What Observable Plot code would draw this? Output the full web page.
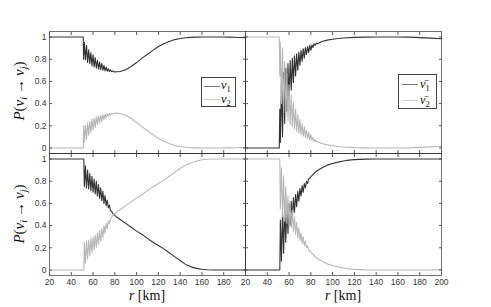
<!DOCTYPE html>
<html><head><meta charset="utf-8">
<script src="https://cdn.jsdelivr.net/npm/d3@7"></script>
<script src="https://cdn.jsdelivr.net/npm/@observablehq/plot@0.6"></script>
<style>
body{margin:0;background:#fff}
#chart{position:relative;width:491px;height:307px;overflow:hidden;background:#fff}
.panel{position:absolute}
.panel svg{background:transparent;overflow:visible}
.txt{position:absolute;font-family:"Liberation Serif","DejaVu Serif",serif;color:#111;white-space:nowrap}
.xl{font-size:14px;transform:translateX(-50%)}
.yl{font-size:15px;transform:translate(-50%,-50%) rotate(-90deg)}
.yl sub,.lab sub{font-size:0.68em;vertical-align:-0.3em;line-height:0}
.legend{position:absolute;border:1px solid #444;background:#fff;box-sizing:border-box}
.sw{position:absolute;height:1px}
.lab{position:absolute;font-family:"Liberation Serif","DejaVu Serif",serif;font-size:12.5px;line-height:12px;height:12px;color:#111}
</style></head><body><div id="chart"></div>
<script>
// ---- tick labels ----
const xTicks = [20, 40, 60, 80, 100, 120, 140, 160, 180, 200];
const yTicks = [0, 0.2, 0.4, 0.6, 0.8, 1];

// ---- top-left: neutrinos (nu1 dark, nu2 light) ----
const rA = [20, 51, 51.3,
  52, 53, 54, 55, 56, 57, 58, 59, 60, 61, 62, 63, 64, 65, 66, 67, 68, 69, 70, 71, 72, 73, 74, 75, 76, 77, 78, 79, 80,
  85, 90, 95, 100, 105, 110, 115, 120, 125, 130, 135, 140, 145, 150, 155, 160, 165, 170, 175, 180, 185, 190, 195, 200];
const nu1A = [1, 1, 0.80,
  0.95, 0.795, 0.925, 0.77, 0.885, 0.76, 0.86, 0.74, 0.84, 0.73, 0.815, 0.72, 0.79, 0.71, 0.775, 0.705, 0.76, 0.70, 0.745, 0.695, 0.73, 0.692, 0.715, 0.69, 0.705, 0.688, 0.695, 0.687, 0.686,
  0.69, 0.705, 0.735, 0.77, 0.81, 0.845, 0.88, 0.915, 0.94, 0.96, 0.977, 0.987, 0.993, 0.997, 0.999, 1, 1, 1, 1, 1, 0.999, 0.998, 0.996, 0.995];
const nu2A = [0, 0, 0.20,
  0.05, 0.205, 0.075, 0.23, 0.115, 0.24, 0.14, 0.26, 0.16, 0.27, 0.185, 0.28, 0.21, 0.29, 0.225, 0.295, 0.24, 0.30, 0.255, 0.305, 0.27, 0.308, 0.285, 0.31, 0.295, 0.312, 0.305, 0.313, 0.314,
  0.31, 0.295, 0.265, 0.23, 0.19, 0.155, 0.12, 0.085, 0.06, 0.04, 0.023, 0.013, 0.007, 0.003, 0.001, 0, 0, 0, 0, 0, 0.001, 0.002, 0.004, 0.005];

// ---- top-right: antineutrinos ----
const rB = [20, 51, 51.5,
  52, 53, 54, 55, 56, 57, 58, 59, 60, 61, 62, 63, 64, 65, 66, 67, 68, 69, 70, 71, 72, 73, 74, 75, 76, 77, 78, 79, 80, 81, 82, 83, 84, 85, 86,
  90, 95, 100, 105, 110, 120, 130, 140, 150, 160, 170, 180, 190, 200];
const anu1B = [0, 0, 0.35,
  0.05, 0.60, 0.10, 0.68, 0.22, 0.72, 0.33, 0.76, 0.43, 0.79, 0.52, 0.81, 0.59, 0.83, 0.65, 0.85, 0.70, 0.865, 0.745, 0.88, 0.78, 0.895, 0.81, 0.905, 0.84, 0.915, 0.86, 0.925, 0.88, 0.93, 0.905, 0.94, 0.925, 0.945, 0.94,
  0.96, 0.972, 0.98, 0.987, 0.992, 0.997, 0.999, 1, 1, 1, 0.999, 0.995, 0.99, 0.985];
const anu2B = [1, 1, 0.65,
  0.95, 0.40, 0.90, 0.32, 0.78, 0.28, 0.67, 0.24, 0.57, 0.21, 0.48, 0.19, 0.41, 0.17, 0.35, 0.15, 0.30, 0.135, 0.255, 0.12, 0.22, 0.105, 0.19, 0.095, 0.16, 0.085, 0.14, 0.075, 0.12, 0.07, 0.095, 0.06, 0.075, 0.055, 0.06,
  0.04, 0.028, 0.02, 0.013, 0.008, 0.003, 0.001, 0, 0, 0, 0.001, 0.005, 0.01, 0.015];

// ---- bottom-left: neutrinos ----
const rC = [20, 51.5,
  52, 53, 54, 55, 56, 57, 58, 59, 60, 61, 62, 63, 64, 65, 66, 67, 68, 69, 70, 71, 72, 73, 74, 75, 76, 77, 78,
  80, 85, 90, 95, 100, 105, 110, 115, 120, 125, 130, 135, 140, 145, 150, 155, 160, 165, 170, 175, 180, 185, 190, 195, 200];
const nu1C = [1, 1,
  0.75, 0.94, 0.74, 0.90, 0.73, 0.87, 0.715, 0.845, 0.70, 0.82, 0.685, 0.80, 0.665, 0.77, 0.645, 0.74, 0.625, 0.71, 0.60, 0.67, 0.58, 0.63, 0.56, 0.585, 0.535, 0.53, 0.51,
  0.49, 0.455, 0.42, 0.385, 0.35, 0.32, 0.285, 0.25, 0.22, 0.19, 0.155, 0.12, 0.085, 0.05, 0.028, 0.014, 0.006, 0.002, 0, 0, 0, 0, 0, 0, 0];
const nu2C = [0, 0,
  0.25, 0.06, 0.26, 0.10, 0.27, 0.13, 0.285, 0.155, 0.30, 0.18, 0.315, 0.20, 0.335, 0.23, 0.355, 0.26, 0.375, 0.29, 0.40, 0.33, 0.42, 0.37, 0.44, 0.415, 0.465, 0.47, 0.49,
  0.51, 0.545, 0.58, 0.615, 0.65, 0.68, 0.715, 0.75, 0.78, 0.81, 0.845, 0.88, 0.915, 0.945, 0.965, 0.982, 0.993, 0.998, 1, 1, 1, 1, 1, 1, 1];

// ---- bottom-right: antineutrinos ----
const rD = [20, 51.5,
  52, 53, 54, 55, 56, 57, 58, 59, 60, 61, 62, 63, 64, 65, 66, 67, 68, 69, 70, 71, 72, 73, 74, 75, 76, 77, 78,
  80, 85, 90, 95, 100, 105, 110, 115, 120, 130, 140, 150, 160, 170, 180, 190, 200];
const anu1D = [0, 0,
  0.45, 0.08, 0.52, 0.15, 0.56, 0.25, 0.58, 0.33, 0.60, 0.40, 0.62, 0.46, 0.65, 0.52, 0.68, 0.57, 0.71, 0.62, 0.735, 0.665, 0.76, 0.70, 0.78, 0.74, 0.80, 0.78, 0.82,
  0.84, 0.89, 0.92, 0.945, 0.96, 0.972, 0.982, 0.99, 0.995, 0.999, 1, 1, 1, 1, 1, 1, 1];
const anu2D = [1, 1,
  0.55, 0.92, 0.48, 0.85, 0.44, 0.75, 0.42, 0.67, 0.40, 0.60, 0.38, 0.54, 0.35, 0.48, 0.32, 0.43, 0.29, 0.38, 0.265, 0.335, 0.24, 0.30, 0.22, 0.26, 0.20, 0.22, 0.18,
  0.16, 0.11, 0.08, 0.055, 0.04, 0.028, 0.018, 0.01, 0.005, 0.001, 0, 0, 0, 0, 0, 0, 0.003];

const darkColor = "#333333", lightColor = "#b8b8b8";

function rows(r, p) { return r.map((v, i) => ({r: v, p: p[i]})); }

function panel({r, dark, light, left, top, width, height, mL, mR, mT, mB, yLabels, xLabels, skipLast}) {
  const fig = Plot.plot({
    width, height,
    marginLeft: mL, marginRight: mR, marginTop: mT, marginBottom: mB,
    style: {background: "transparent", fontFamily: "'Liberation Sans', Arial, sans-serif", fontSize: "8.5px", color: "#333", overflow: "visible"},
    x: {domain: [20, 200], label: null},
    y: {domain: [-0.05, 1.05], label: null},
    marks: [
      Plot.line(rows(r, dark), {x: "r", y: "p", stroke: darkColor, strokeWidth: 1.1}),
      Plot.line(rows(r, light), {x: "r", y: "p", stroke: lightColor, strokeWidth: 1.1}),
      Plot.frame({stroke: "#000", strokeOpacity: 0.55}),
      Plot.axisY({ticks: yTicks, anchor: "left", tickSize: -3, tickPadding: 6, label: null, stroke: "#555",
        tickFormat: yLabels ? (d => String(d)) : (() => "")}),
      Plot.axisY({ticks: yTicks, anchor: "right", tickSize: -3, label: null, stroke: "#555", tickFormat: () => ""}),
      Plot.axisX({ticks: xTicks, anchor: "top", tickSize: -3, label: null, stroke: "#555", tickFormat: () => ""}),
      Plot.axisX({ticks: xTicks, anchor: "bottom", tickSize: -3, tickPadding: 6, label: null, stroke: "#555",
        tickFormat: xLabels ? (d => (skipLast && d === 200) ? "" : String(d)) : (() => "")})
    ]
  });
  const wrap = document.createElement("div");
  wrap.className = "panel";
  wrap.style.left = left + "px";
  wrap.style.top = top + "px";
  wrap.appendChild(fig);
  return wrap;
}

const chart = document.getElementById("chart");
chart.appendChild(panel({r: rA, dark: nu1A, light: nu2A, left: 0, top: 0, width: 246, height: 153, mL: 49, mR: 1, mT: 31, mB: 0, yLabels: true, xLabels: false}));
chart.appendChild(panel({r: rB, dark: anu1B, light: anu2B, left: 244, top: 0, width: 247, height: 153, mL: 1, mR: 50, mT: 31, mB: 0, yLabels: false, xLabels: false}));
chart.appendChild(panel({r: rC, dark: nu1C, light: nu2C, left: 0, top: 152, width: 246, height: 155, mL: 49, mR: 1, mT: 1, mB: 32, yLabels: true, xLabels: true, skipLast: true}));
chart.appendChild(panel({r: rD, dark: anu1D, light: anu2D, left: 244, top: 152, width: 247, height: 155, mL: 1, mR: 50, mT: 1, mB: 32, yLabels: false, xLabels: true}));

function addHTML(html) { chart.insertAdjacentHTML("beforeend", html); }
const yLab = '<i>P</i>(<i>ν</i><sub><i>i</i></sub>&thinsp;→&thinsp;<i>ν</i><sub><i>j</i></sub>)';
addHTML(`<div class="txt yl" style="left:19px;top:91px">${yLab}</div>`);
addHTML(`<div class="txt yl" style="left:19px;top:214px">${yLab}</div>`);
addHTML(`<div class="txt xl" style="left:147px;top:288px"><i>r</i> [km]</div>`);
addHTML(`<div class="txt xl" style="left:343px;top:288px"><i>r</i> [km]</div>`);

addHTML(`<div class="legend" style="left:201px;top:77px;width:35px;height:30px">
  <div class="sw" style="left:2px;top:8px;width:16px;background:#777"></div>
  <div class="lab" style="left:19px;top:1px"><i>ν</i><sub>1</sub></div>
  <div class="sw" style="left:2px;top:21px;width:16px;background:#ccc"></div>
  <div class="lab" style="left:19px;top:15px"><i>ν</i><sub>2</sub></div>
</div>`);
addHTML(`<div class="legend" style="left:398px;top:74px;width:39px;height:35px">
  <div class="sw" style="left:3px;top:9px;width:16px;background:#777"></div>
  <div class="lab" style="left:21px;top:3px"><i>ν̄</i><sub>1</sub></div>
  <div class="sw" style="left:3px;top:25px;width:16px;background:#ccc"></div>
  <div class="lab" style="left:21px;top:19px"><i>ν̄</i><sub>2</sub></div>
</div>`);
</script></body></html>
